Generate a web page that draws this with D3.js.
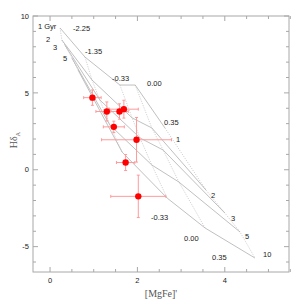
<!DOCTYPE html>
<html>
<head>
<meta charset="utf-8">
<script src="https://cdn.jsdelivr.net/npm/d3@7"></script>
<style>
  html, body { margin: 0; padding: 0; background: #fff; }
  svg { display: block; }
</style>
</head>
<body>
<svg id="chart" width="305" height="305"></svg>
<script>
// ---- Data ----
const ages = [1, 2, 3, 5, 10];
const metallicities = [-2.25, -1.35, -0.33, 0.00, 0.35];
// model grid: rows = metallicity, cols = age
const modelMgFe = [
  [0.23, 0.27, 0.34, 0.50, 0.64],
  [0.80, 0.96, 1.14, 1.37, 1.65],
  [1.60, 1.88, 2.06, 2.33, 2.68],
  [1.95, 2.33, 2.59, 2.95, 3.55],
  [2.63, 3.57, 4.00, 4.35, 4.69]
];
const modelHd = [
  [9.22, 8.44, 8.11, 7.27, 6.49],
  [7.33, 5.84, 4.54, 2.91, 1.15],
  [5.51, 3.37, 2.07, 0.31, -1.84],
  [5.51, 2.72, 1.28, -0.80, -3.79],
  [2.72, -1.32, -2.81, -4.05, -5.74]
];
// observed galaxies
const obsMgFe = [0.97, 1.30, 1.59, 1.69, 1.46, 1.98, 1.73, 2.02];
const obsHd = [4.69, 3.79, 3.79, 3.94, 2.79, 1.95, 0.47, -1.73];
const obsMgFeErr = [0.20, 0.25, 0.20, 0.33, 0.24, 0.80, 0.21, 0.63];
const obsHdErr = [0.50, 0.62, 0.50, 0.58, 0.37, 1.45, 0.52, 1.38];
// grid annotations
const labelText = ["1 Gyr", "2", "3", "5", "-2.25", "-1.35", "-0.33", "0.00", "0.35",
  "1", "2", "3", "5", "10", "-0.33", "0.00", "0.35"];
const labelX = [-0.276, -0.092, 0.068, 0.297, 0.526, 0.800, 1.418, 2.220, 2.610,
  2.883, 3.685, 4.142, 4.463, 4.875, 2.311, 3.067, 3.707];
const labelY = [9.15, 8.31, 7.79, 7.07, 9.02, 7.53, 5.77, 5.45, 2.91,
  1.80, -1.84, -3.33, -4.50, -5.68, -3.27, -4.63, -5.87];
const xTickLabels = [0, 2, 4];
const yTickLabels = [10, 5, 0, -5];

// ---- Layout ----
const W = 305, H = 305;
const m = { left: 33, right: 16, top: 16, bottom: 33 };
const svg = d3.select("#chart");
const x = d3.scaleLinear().domain([-0.39, 5.47]).range([m.left, W - m.right]);
const y = d3.scaleLinear().domain([-6.65, 10]).range([H - m.bottom, m.top]);

const frameColor = "#a8a8a8";
const gridAge = "#b0b0b0";
const gridZ = "#c8c8c8";

// ---- model grid ----
const line = d3.line().x(d => x(d[0])).y(d => y(d[1]));
const gGrid = svg.append("g");
// constant metallicity lines (vary age) – dotted
metallicities.forEach((z, i) => {
  const pts = ages.map((a, j) => [modelMgFe[i][j], modelHd[i][j]]);
  gGrid.append("path").attr("d", line(pts))
    .attr("fill", "none").attr("stroke", gridZ).attr("stroke-width", 0.8)
    .attr("stroke-dasharray", "1.2,1.2");
});
// constant age lines (vary metallicity) – solid
ages.forEach((a, j) => {
  const pts = metallicities.map((z, i) => [modelMgFe[i][j], modelHd[i][j]]);
  gGrid.append("path").attr("d", line(pts))
    .attr("fill", "none").attr("stroke", gridAge).attr("stroke-width", 0.8);
});

// grid labels
svg.append("g").selectAll("text").data(labelText).join("text")
  .attr("x", (d, i) => x(labelX[i])).attr("y", (d, i) => y(labelY[i]))
  .attr("font-family", "Liberation Sans, Arial, sans-serif")
  .attr("font-size", 7.5).attr("fill", "#222").text(d => d);

// ---- error bars & points ----
const gObs = svg.append("g");
const errColor = "#ff9a9a";
obsMgFe.forEach((mx, i) => {
  const cx = x(mx), cy = y(obsHd[i]);
  const x0 = x(mx - obsMgFeErr[i]), x1 = x(mx + obsMgFeErr[i]);
  const y0 = y(obsHd[i] - obsHdErr[i]), y1 = y(obsHd[i] + obsHdErr[i]);
  const s = { stroke: errColor, "stroke-width": 1 };
  const seg = (a, b, c, d) => gObs.append("line").attr("x1", a).attr("y1", b).attr("x2", c).attr("y2", d)
    .attr("stroke", errColor).attr("stroke-width", 1);
  seg(x0, cy, x1, cy);
  seg(cx, y0, cx, y1);
  seg(x0, cy - 1.5, x0, cy + 1.5);
  seg(x1, cy - 1.5, x1, cy + 1.5);
  seg(cx - 1.5, y0, cx + 1.5, y0);
  seg(cx - 1.5, y1, cx + 1.5, y1);
});
gObs.selectAll("circle").data(obsMgFe).join("circle")
  .attr("cx", d => x(d)).attr("cy", (d, i) => y(obsHd[i]))
  .attr("r", 3.2).attr("fill", "#ff0000");

// ---- axes / frame ----
const gAx = svg.append("g");
gAx.append("rect").attr("x", m.left).attr("y", m.top)
  .attr("width", W - m.left - m.right).attr("height", H - m.top - m.bottom)
  .attr("fill", "none").attr("stroke", frameColor).attr("stroke-width", 1);

const xMinor = d3.range(0, 5.51, 0.5);
const yMinor = d3.range(-6, 10.01, 1);
const tick = (x1, y1, x2, y2) => gAx.append("line").attr("x1", x1).attr("y1", y1).attr("x2", x2).attr("y2", y2)
  .attr("stroke", frameColor).attr("stroke-width", 1);
const yb = H - m.bottom, yt = m.top, xl = m.left, xr = W - m.right;
xMinor.forEach(v => {
  const major = Math.abs(v % 2) < 1e-6;
  const len = major ? 5 : 3;
  tick(x(v), yb, x(v), yb - len);
  tick(x(v), yt, x(v), yt + len);
});
yMinor.forEach(v => {
  const major = Math.abs(v % 5) < 1e-6;
  const len = major ? 5 : 3;
  tick(xl, y(v), xl + len, y(v));
  tick(xr, y(v), xr - len, y(v));
});

gAx.selectAll(".xl").data(xTickLabels).join("text")
  .attr("x", d => x(d)).attr("y", yb + 11).attr("text-anchor", "middle")
  .attr("font-family", "Liberation Sans, Arial, sans-serif").attr("font-size", 7.5)
  .attr("fill", "#222").text(d => d);
gAx.selectAll(".yl").data(yTickLabels).join("text")
  .attr("x", xl - 4).attr("y", d => y(d) + 2.7).attr("text-anchor", "end")
  .attr("font-family", "Liberation Sans, Arial, sans-serif").attr("font-size", 7.5)
  .attr("fill", "#222").text(d => d);

// axis titles
svg.append("text").attr("x", (xl + xr) / 2).attr("y", H - 8).attr("text-anchor", "middle")
  .attr("font-family", "Liberation Serif, Times New Roman, serif").attr("font-size", 10)
  .attr("fill", "#555").text("[MgFe]'");
const yt2 = svg.append("text").attr("transform", `translate(17,${140}) rotate(-90)`)
  .attr("text-anchor", "middle")
  .attr("font-family", "Liberation Serif, Times New Roman, serif").attr("font-size", 10)
  .attr("fill", "#555");
yt2.append("tspan").text("Hδ");
yt2.append("tspan").attr("dy", 2.5).attr("font-size", 6.5).text("A");
</script>
</body>
</html>
